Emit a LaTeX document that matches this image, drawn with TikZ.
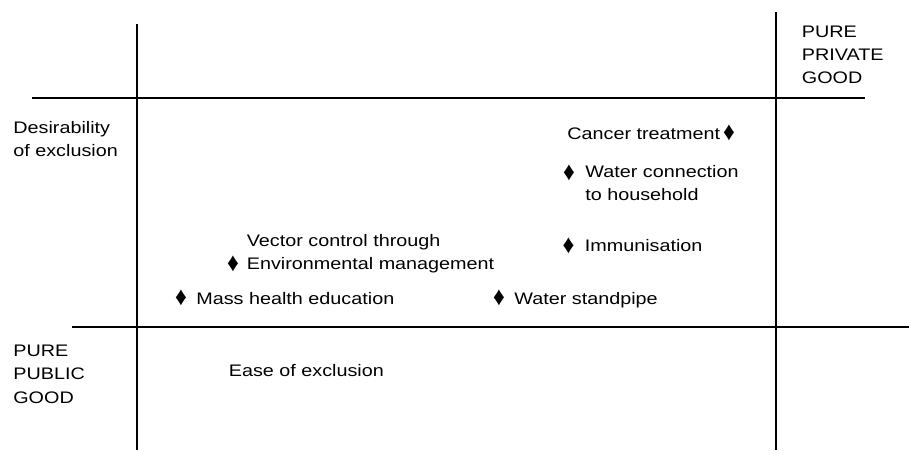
\documentclass[tikz,border=0pt]{standalone}
\usepackage{fontspec}
\setmainfont[FakeStretch=1.185]{Liberation Sans}
\newfontfamily\pipfont{Liberation Sans}

\begin{document}
\begin{tikzpicture}[
	 lbl/.style = {anchor = base west, align = left, inner sep = 0pt, font = \fontsize{9.5}{13.1}\selectfont},
	 pip/.style = {anchor = center, inner sep = 0pt, font = \pipfont\fontsize{11}{13.1}\selectfont}]
	 \useasboundingbox (0, 0) rectangle (18.18, 9);
	 
	 \draw[line width = 0.85pt] (2.74, 8.52) -- (2.74, 0);
	 \draw[line width = 0.85pt] (15.52, 8.76) -- (15.52, 0);
	 \draw[line width = 0.85pt] (0.64, 7.04) -- (17.30, 7.04);
	 \draw[line width = 0.85pt] (1.44, 2.46) -- (18.18, 2.46);
	 
	 \node[lbl] (desire) at (0.26, 5.86) {Desirability\\of exclusion};
	 \node[lbl] (private) at (16.03, 7.32) {PURE\\PRIVATE\\GOOD};
	 \node[lbl] (public) at (0.26, 0.94) {PURE\\PUBLIC\\GOOD};
	 \node[lbl] (ease) at (4.57, 1.47) {Ease of exclusion};
	 
	 \node[lbl] (cancer) at (11.34, 6.20) {Cancer treatment};
	 \node[pip] (cancerpip) at (14.58, 6.34) {\scalebox{1.2}[1.35]{♦}};
	 
	 \node[pip] (waterpip) at (11.38, 5.54) {\scalebox{1.2}[1.35]{♦}};
	 \node[lbl] (water) at (11.70, 4.98) {Water connection\\to household};
	 
	 \node[pip] (immunpip) at (11.37, 4.08) {\scalebox{1.2}[1.35]{♦}};
	 \node[lbl] (immun) at (11.69, 3.96) {Immunisation};
	 
	 \node[lbl] (vector) at (4.93, 3.61) {Vector control through\\Environmental management};
	 \node[pip] (vectorpip) at (4.66, 3.72) {\scalebox{1.2}[1.35]{♦}};
	 
	 \node[pip] (masspip) at (3.62, 3.04) {\scalebox{1.2}[1.35]{♦}};
	 \node[lbl] (mass) at (3.92, 2.92) {Mass health education};
	 
	 \node[pip] (pipepip) at (9.98, 3.04) {\scalebox{1.2}[1.35]{♦}};
	 \node[lbl] (pipe) at (10.28, 2.92) {Water standpipe};
\end{tikzpicture}
\end{document}
